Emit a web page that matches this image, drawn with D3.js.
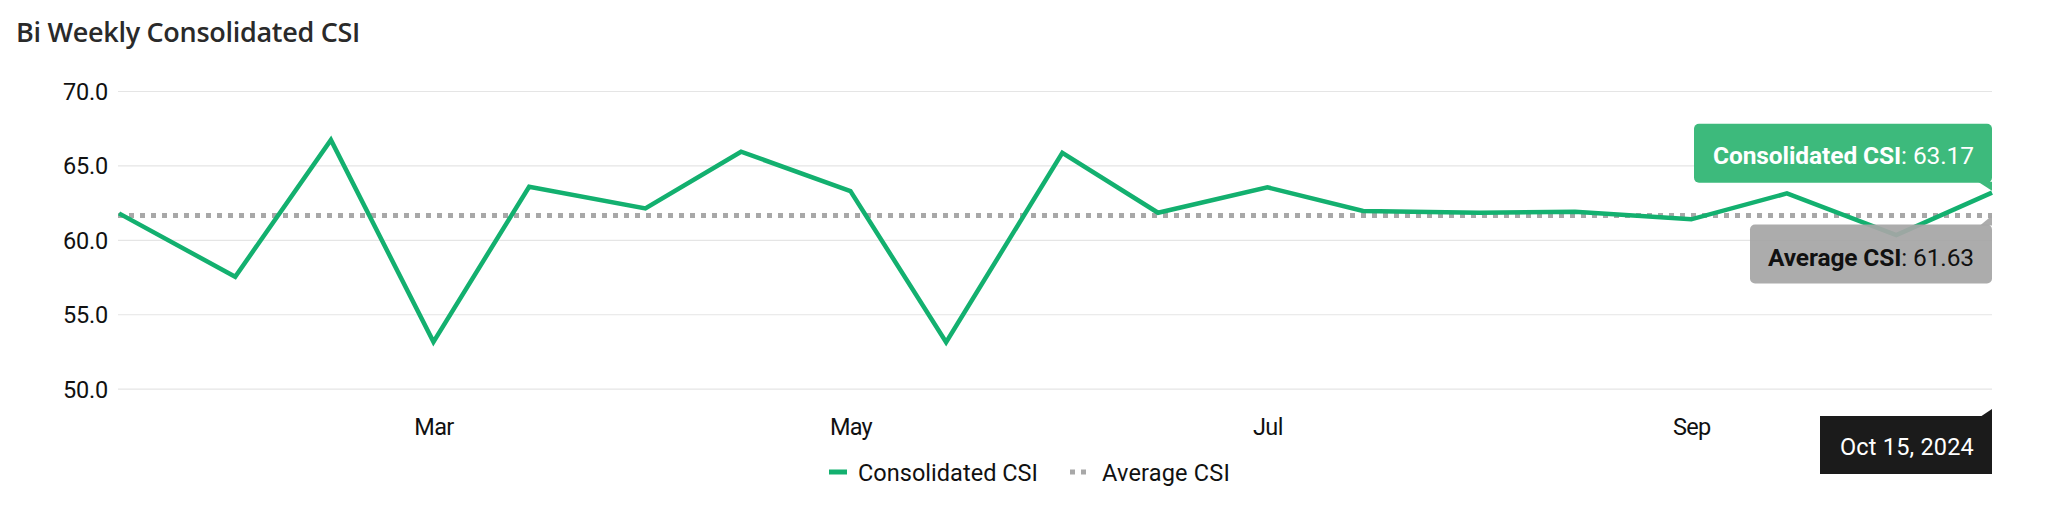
<!DOCTYPE html>
<html>
<head>
<meta charset="utf-8">
<script src="https://cdn.jsdelivr.net/npm/d3@7"></script>
<style>
  html, body { margin: 0; padding: 0; background: #fff; }
  svg { display: block; }
</style>
</head>
<body>
<svg id="chart" width="2048" height="522"></svg>
<script>
// ---- data ----
const dates = ["2024-01-15","2024-02-01","2024-02-15","2024-03-01","2024-03-15","2024-04-01","2024-04-15",
  "2024-05-01","2024-05-15","2024-06-01","2024-06-15","2024-07-01","2024-07-15","2024-08-01","2024-08-15",
  "2024-09-01","2024-09-15","2024-10-01","2024-10-15"];
const consolidatedCSI = [61.78, 57.52, 66.71, 53.15, 63.57, 62.11, 65.92, 63.28, 53.12, 65.85, 61.82,
  63.53, 61.94, 61.82, 61.89, 61.38, 63.12, 60.32, 63.17];
const averageCSI = 61.63;
const yTicks = [50, 55, 60, 65, 70];
const titleText = "Bi Weekly Consolidated CSI";
const seriesNames = ["Consolidated CSI", "Average CSI"];
const tooltipDate = "Oct 15, 2024";

const parse = d3.timeParse("%Y-%m-%d");
const points = dates.map((d, i) => ({ date: parse(d), value: consolidatedCSI[i] }));

const svg = d3.select("#chart");
const FONT = "Roboto, 'Liberation Sans', sans-serif";

function fit(sel, target) {
  const node = sel.node();
  const n = node.textContent.length;
  const w = node.getComputedTextLength();
  sel.attr("letter-spacing", ((target - w) / n).toFixed(3));
}

const x = d3.scaleTime().domain([points[0].date, points[points.length - 1].date]).range([119, 1992]);
const y = d3.scaleLinear().domain([50, 70]).range([388.7, 91]);

// title
const title = svg.append("text").attr("x", 16).attr("y", 42)
  .attr("font-family", "'Open Sans', sans-serif").attr("font-weight", 600)
  .attr("font-size", 27).attr("fill", "#2a2a2a").text(titleText);
fit(title, 344);

// grid + y axis
const yAxis = svg.append("g").attr("transform", "translate(118,0)")
  .call(d3.axisLeft(y).tickValues(yTicks).tickFormat(d3.format(".1f")).tickSize(-(1992 - 118)).tickPadding(10));
yAxis.select(".domain").remove();
yAxis.selectAll(".tick line").attr("stroke", "#e5e5e5").attr("stroke-width", 1.2);
yAxis.selectAll(".tick text").attr("font-family", FONT).attr("font-size", 23.5).attr("fill", "#111")
  .attr("dy", "0.36em").each(function () { fit(d3.select(this), 45); });

// x axis
const xAxis = svg.append("g").attr("transform", "translate(0,388.7)")
  .call(d3.axisBottom(x).ticks(d3.timeMonth.every(2)).tickFormat(d3.timeFormat("%b")).tickSize(0));
xAxis.select(".domain").remove();
xAxis.selectAll(".tick text").attr("font-family", FONT).attr("font-size", 23.5).attr("fill", "#111")
  .attr("y", 0).attr("dy", 46.5).each(function () {
    const s = d3.select(this); fit(s, s.node().getComputedTextLength() * 0.95);
  });

// average line
svg.append("line").attr("x1", 118).attr("x2", 1992).attr("y1", y(averageCSI)).attr("y2", y(averageCSI))
  .attr("stroke", "#a8a8a8").attr("stroke-width", 5).attr("stroke-dasharray", "5,6");

// consolidated line
const line = d3.line().x(d => x(d.date)).y(d => y(d.value));
svg.append("path").datum(points).attr("d", line).attr("fill", "none")
  .attr("stroke", "#13b06f").attr("stroke-width", 4.5).attr("stroke-linejoin", "miter");

// tooltips
const last = points[points.length - 1];
const lx = x(last.date), ly = y(last.value), ay = y(averageCSI);

// green tooltip
const gB = ly - 10, gT = gB - 59, gL = lx - 298;
svg.append("rect").attr("x", gL).attr("y", gT).attr("width", lx - gL).attr("height", gB - gT)
  .attr("rx", 5).attr("fill", "#3dba7c");
svg.append("path").attr("d", `M${lx - 14},${gB - 1} L${lx},${gB - 1} L${lx},${gB + 8} Z`).attr("fill", "#3dba7c");
const gt = svg.append("text").attr("x", gL + 19).attr("y", gT + 40).attr("font-family", FONT)
  .attr("font-size", 24.5).attr("fill", "#fff");
gt.append("tspan").attr("font-weight", 700).text(seriesNames[0]);
gt.append("tspan").text(": " + last.value.toFixed(2));
fit(gt, 261);

// gray tooltip
const aT = ay + 9, aB = aT + 59, aL = lx - 242;
svg.append("rect").attr("x", aL).attr("y", aT).attr("width", lx - aL).attr("height", aB - aT)
  .attr("rx", 5).attr("fill", "#a6a6a6").attr("fill-opacity", 0.93);
svg.append("path").attr("d", `M${lx - 12},${aT + 1} L${lx},${aT + 1} L${lx},${aT - 9} Z`)
  .attr("fill", "#a6a6a6").attr("fill-opacity", 0.93);
const at = svg.append("text").attr("x", aL + 18).attr("y", aT + 41).attr("font-family", FONT)
  .attr("font-size", 24.5).attr("fill", "#111");
at.append("tspan").attr("font-weight", 700).text(seriesNames[1]);
at.append("tspan").text(": " + averageCSI.toFixed(2));
fit(at, 206);

// date tooltip
const dT = 416, dB = 474, dL = lx - 172;
svg.append("rect").attr("x", dL).attr("y", dT).attr("width", lx - dL).attr("height", dB - dT)
  .attr("fill", "#1b1b1b");
svg.append("path").attr("d", `M${lx - 12},${dT + 1} L${lx},${dT - 7} L${lx},${dT + 1} Z`).attr("fill", "#1b1b1b");
const dt = svg.append("text").attr("x", dL + 20).attr("y", dT + 39).attr("font-family", FONT)
  .attr("font-size", 23.5).attr("fill", "#fff").text(tooltipDate);
fit(dt, 134);

// legend
const leg = svg.append("g");
leg.append("line").attr("x1", 829).attr("x2", 847).attr("y1", 472).attr("y2", 472)
  .attr("stroke", "#13b06f").attr("stroke-width", 5);
const l1 = leg.append("text").attr("x", 858).attr("y", 481).attr("font-family", FONT)
  .attr("font-size", 23.5).attr("fill", "#111").text(seriesNames[0]);
fit(l1, 180);
leg.append("line").attr("x1", 1070).attr("x2", 1087).attr("y1", 472).attr("y2", 472)
  .attr("stroke", "#a8a8a8").attr("stroke-width", 5).attr("stroke-dasharray", "5,6");
const l2 = leg.append("text").attr("x", 1102).attr("y", 481).attr("font-family", FONT)
  .attr("font-size", 23.5).attr("fill", "#111").text(seriesNames[1]);
fit(l2, 128);
</script>
</body>
</html>
